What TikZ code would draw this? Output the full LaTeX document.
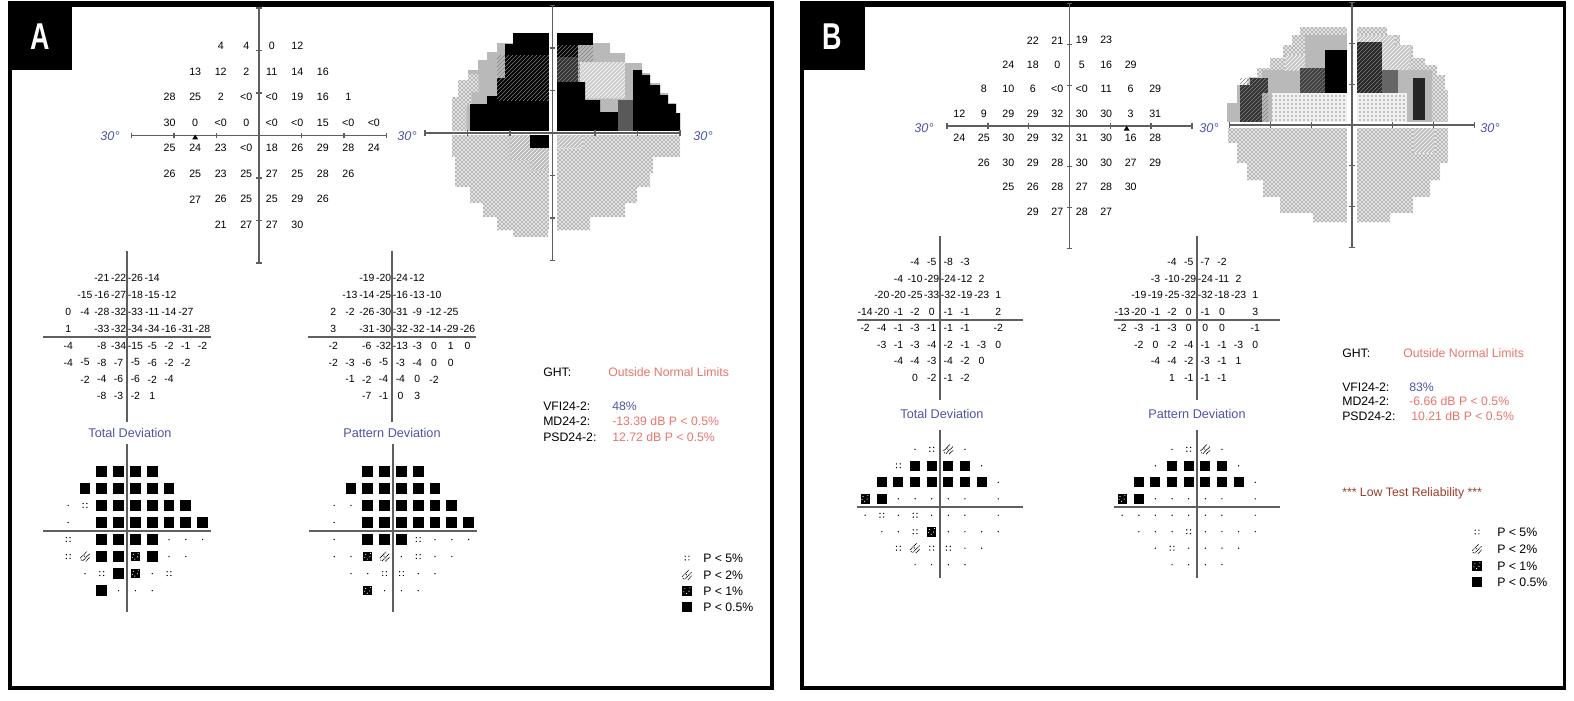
\documentclass[tikz,border=0pt]{standalone}
\usepackage{fontspec}
\usepackage{graphicx}
\setmainfont{Liberation Sans}
\usetikzlibrary{patterns}
\definecolor{vfblue}{RGB}{78,84,172}
\definecolor{vfred}{RGB}{233,118,108}
\definecolor{vfbrown}{RGB}{158,62,42}
\definecolor{axgray}{RGB}{95,95,95}
\def\sqh{4.1pt}
\newcommand\trow[3]{\foreach \v [count=\i from 0] in {#3} {\node[num] at ({#1+6*\i},#2) {\v};}}
\newcommand\drow[3]{\foreach \v [count=\i from 0] in {#3} {\node[dev] at ({#1+6*\i},#2) {\v};}}
\newcommand\psym[3]{%
  \if#3B\fill (#1,#2) +(-\sqh,-\sqh) rectangle +(\sqh,\sqh);\fi
  \if#3K\fill (#1,#2) +(-3.4pt,-3.6pt) rectangle +(3.4pt,3.6pt);
     \fill[white] (#1,#2) +(-1.6pt,1.7pt) circle (0.45pt) +(1.5pt,-0.2pt) circle (0.45pt) +(-0.4pt,-1.9pt) circle (0.45pt) +(2.1pt,2.4pt) circle (0.4pt) +(-2.3pt,-0.6pt) circle (0.4pt);\fi
  \if#3H\draw[line width=0.6pt,dash pattern=on 0.8pt off 0.5pt] (#1,#2) +(-3.6pt,-1.2pt)--+(1.2pt,3.6pt) +(-1.8pt,-3.2pt)--+(3.4pt,2pt) +(0.6pt,-3.6pt)--+(3.6pt,-0.6pt);
     \fill (#1,#2) +(-2.8pt,-2.6pt) circle (0.45pt) +(-0.4pt,0.2pt) circle (0.45pt);\fi
  \if#3D\fill (#1,#2) +(-1.4pt,-1.4pt) circle (0.55pt) +(1.4pt,-1.4pt) circle (0.55pt) +(-1.4pt,1.4pt) circle (0.55pt) +(1.4pt,1.4pt) circle (0.55pt);\fi
  \if#3o\fill (#1,#2) circle (0.55pt);\fi}
\newcommand\prow[3]{\foreach \v [count=\i from 0] in {#3} {\psym{{#1+6*\i}}{#2}{\v}}}
\newcommand\vfaxes{%
  \draw[axis] (-30,0)--(30,0) (0,-30)--(0,30);
  \foreach \t in {-30,-20,-10,10,20,30}{\draw[axis] (\t,0)+(0,-2.2pt)--+(0,2.2pt) (0,\t)+(-2.2pt,0)--+(2.2pt,0);}}
\begin{document}
\begin{tikzpicture}[x=0.75pt,y=-0.75pt,
  num/.style={font=\fontsize{8}{9}\selectfont, inner sep=0pt},
  dev/.style={font=\fontsize{7.8}{9}\selectfont, inner sep=0pt},
  axis/.style={draw=axgray,line width=0.95pt},
  lbl/.style={font=\fontsize{9.2}{11}\selectfont, inner sep=0pt, anchor=west},
  ttl/.style={font=\fontsize{9.5}{11}\selectfont, inner sep=0pt, text=vfblue},
  deg/.style={font=\fontsize{9.5}{11}\selectfont\itshape, inner sep=0pt, text=vfblue},
  frame/.style={draw=black, line width=2.6pt},
  dotted area/.style={fill=black!11, postaction={pattern=crosshatch dots, pattern color=black!85}},
  light area/.style={fill=black!6, postaction={pattern=dots, pattern color=black!85}},
  tag/.style={font=\fontsize{28}{28}\selectfont\bfseries, text=white, inner sep=0pt}]
\fill[white] (0,0) rectangle (1574,700);
\useasboundingbox (0,0) rectangle (1574,700);

% ================= frames =================
\draw[frame] (9.8,4.5) rectangle (772.2,688);
\fill (8,1) rectangle (774,7);
\fill (8,1) rectangle (72,70);
\node[tag] (tagA) at (40,37) {\scalebox{0.72}[1]{A}};
\draw[frame] (801.8,4.5) rectangle (1564.7,688);
\fill (800,1) rectangle (1566,7);
\fill (800,1) rectangle (865,70);
\node[tag] (tagB) at (832,37) {\scalebox{0.72}[1]{B}};

% ================= Panel A: grayscale =================
\path[fill=gray!55] (452,131)--(452,97)--(458,97)--(458,80)--(468,80)--(468,70)--(478,70)--(478,60)--(487,60)--(487,52)--(497,52)--(497,43)--(513,43)--(513,33)--(549,33)--(549,131)--cycle;
\path[fill=white] (452,131)--(452,97)--(458,97)--(458,80)--(468,80)--(468,74)--(478,74)--(478,92)--(471,92)--(471,105)--(466,105)--(466,131)--cycle;
\path[dotted area] (452,131)--(452,97)--(458,97)--(458,80)--(468,80)--(468,74)--(478,74)--(478,92)--(471,92)--(471,105)--(466,105)--(466,131)--cycle;
\fill (470,131)--(470,104)--(487,104)--(487,96)--(497,96)--(497,78)--(505,78)--(505,44)--(513,44)--(513,33)--(549,33)--(549,131)--cycle;
\path[pattern=north east lines, pattern color=gray] (497,55) rectangle (549,100);
\path[fill=gray!55] (557,131)--(557,33)--(593,33)--(593,43)--(610,43)--(610,53)--(625,53)--(625,63)--(642,63)--(642,73)--(650,73)--(650,83)--(660,83)--(660,93)--(668,93)--(668,103)--(676,103)--(676,113)--(680,113)--(680,131)--cycle;
\fill (557,33) rectangle (593,45);
\fill (557,45) rectangle (578,57);
\fill[black!80] (557,57) rectangle (578,82);
\path[pattern=north east lines, pattern color=gray] (557,45) rectangle (593,82);
\path[fill=gray!40] (580,62) rectangle (625,98);
\path[pattern=north east lines, pattern color=white] (580,62) rectangle (625,98);
\fill (557,131)--(557,82)--(585,82)--(585,100)--(600,100)--(600,112)--(618,112)--(618,131)--cycle;
\fill[black!65] (618,100) rectangle (633,131);
\fill (633,131)--(633,70)--(642,70)--(642,75)--(650,75)--(650,85)--(660,85)--(660,95)--(668,95)--(668,104)--(676,104)--(676,113)--(680,113)--(680,131)--cycle;
\path[dotted area] (452,135)--(680,135)--(680,157)--(653,157)--(653,173)--(650,173)--(650,187)--(637,187)--(637,203)--(625,203)--(625,217)--(590,217)--(590,230)--(548,230)--(548,237)--(513,237)--(513,230)--(497,230)--(497,217)--(483,217)--(483,203)--(470,203)--(470,187)--(455,187)--(455,157)--(452,157)--cycle;
\fill[gray!55] (510,135)--(549,135)--(549,170)--(530,170)--(530,160)--(510,160)--cycle;
\path[pattern=north east lines, pattern color=white] (510,135)--(549,135)--(549,170)--(530,170)--(530,160)--(510,160)--cycle;
\fill (530,135) rectangle (549,148);
\fill[gray!50] (557,135) rectangle (583,148);
\path[pattern=north east lines, pattern color=white] (557,135) rectangle (583,148);
\fill[white] (549,15) rectangle (557,250);
\fill[white] (445,131) rectangle (690,135);
\begin{scope}[shift={(552.5,133)},x=3.19pt,y=3.19pt]
  \vfaxes
\end{scope}

% ================= Panel A: threshold =================
\begin{scope}[shift={(259,135.5)},x=3.19pt,y=3.19pt]
  \vfaxes
  \fill (-15,-0.4) ++(-2.2pt,-1.6pt) -- ++(4.4pt,0) -- ++(-2.2pt,3.6pt) -- cycle;
  \trow{-9}{21}{4,4,0,12}
  \trow{-15}{15}{13,12,2,11,14,16}
  \trow{-21}{9}{28,25,2,<0,<0,19,16,1}
  \trow{-21}{3}{30,0,<0,0,<0,<0,15,<0,<0}
  \trow{-21}{-3}{25,24,23,<0,18,26,29,28,24}
  \trow{-21}{-9}{26,25,23,25,27,25,28,26}
  \trow{-15}{-15}{27,26,25,25,29,26}
  \trow{-9}{-21}{21,27,27,30}
\end{scope}
\node[deg] (dA1) at (110,136) {30°};
\node[deg] (dA2) at (407,136) {30°};
\node[deg] (dA3) at (703,136) {30°};

% ================= Panel A: deviation numbers =================
\begin{scope}[shift={(127,337)},x=2.1pt,y=2.12pt]
  \draw[axis] (-30,0)--(30,0) (0,30.5)--(0,-30);
  \drow{-9}{21}{-21,-22,-26,-14}
  \drow{-15}{15}{-15,-16,-27,-18,-15,-12}
  \drow{-21}{9}{0,-4,-28,-32,-33,-11,-14,-27}
  \drow{-21}{3}{1,{},-33,-32,-34,-34,-16,-31,-28}
  \drow{-21}{-3}{-4,{},-8,-34,-15,-5,-2,-1,-2}
  \drow{-21}{-9}{-4,-5,-8,-7,-5,-6,-2,-2}
  \drow{-15}{-15}{-2,-4,-6,-6,-2,-4}
  \drow{-9}{-21}{-8,-3,-2,1}
\end{scope}
\begin{scope}[shift={(392,337)},x=2.1pt,y=2.12pt]
  \draw[axis] (-30,0)--(30,0) (0,30.5)--(0,-30);
  \drow{-9}{21}{-19,-20,-24,-12}
  \drow{-15}{15}{-13,-14,-25,-16,-13,-10}
  \drow{-21}{9}{2,-2,-26,-30,-31,-9,-12,-25}
  \drow{-21}{3}{3,{},-31,-30,-32,-32,-14,-29,-26}
  \drow{-21}{-3}{-2,{},-6,-32,-13,-3,0,1,0}
  \drow{-21}{-9}{-2,-3,-6,-5,-3,-4,0,0}
  \drow{-15}{-15}{-1,-2,-4,-4,0,-2}
  \drow{-9}{-21}{-7,-1,0,3}
\end{scope}
\node[ttl] (tdA) at (130,433) {Total Deviation};
\node[ttl] (pdA) at (392,433) {Pattern Deviation};

% ================= Panel A: probability plots =================
\begin{scope}[shift={(127,531)},x=2.1pt,y=2.13pt]
  \draw[axis] (-30,0)--(30,0) (0,30.5)--(0,-28.5);
  \prow{-9}{21}{B,B,B,B}
  \prow{-15}{15}{B,B,B,B,B,B}
  \prow{-21}{9}{o,D,B,B,B,B,B,B}
  \prow{-21}{3}{o,n,B,B,B,B,B,B,B}
  \prow{-21}{-3}{D,n,B,B,B,B,o,o,o}
  \prow{-21}{-9}{D,H,B,B,K,B,o,o}
  \prow{-15}{-15}{o,D,B,K,o,D}
  \prow{-9}{-21}{B,o,o,o}
\end{scope}
\begin{scope}[shift={(393,531)},x=2.1pt,y=2.13pt]
  \draw[axis] (-30,0)--(30,0) (0,30.5)--(0,-28.5);
  \prow{-9}{21}{B,B,B,B}
  \prow{-15}{15}{B,B,B,B,B,B}
  \prow{-21}{9}{o,o,B,B,B,B,B,B}
  \prow{-21}{3}{o,n,B,B,B,B,B,B,B}
  \prow{-21}{-3}{o,n,B,B,B,D,o,o,o}
  \prow{-21}{-9}{o,o,K,H,o,D,o,o}
  \prow{-15}{-15}{o,o,D,D,o,o}
  \prow{-9}{-21}{K,o,o,o}
\end{scope}

% ================= Panel A: indices and legend =================
\node[lbl] (ghtA) at (543,372) {GHT:};
\node[lbl,text=vfred] (ghtvA) at (608,372) {Outside Normal Limits};
\node[lbl] (vfiA) at (543,406) {VFI24-2:};
\node[lbl,text=vfblue] (vfivA) at (612,406) {48\%};
\node[lbl] (mdA) at (543,421) {MD24-2:};
\node[lbl,text=vfred] (mdvA) at (612,421) {-13.39 dB P < 0.5\%};
\node[lbl] (psdA) at (543,437) {PSD24-2:};
\node[lbl,text=vfred] (psdvA) at (612,437) {12.72 dB P < 0.5\%};
\psym{687}{558}{D}\psym{687}{575}{H}\psym{687}{591}{K}\psym{687}{607}{B}
\node[lbl] (l1A) at (703,558) {P < 5\%};
\node[lbl] (l2A) at (703,575) {P < 2\%};
\node[lbl] (l3A) at (703,591) {P < 1\%};
\node[lbl] (l4A) at (703,607) {P < 0.5\%};

% ================= Panel B: grayscale =================
\path[dotted area] (1227,122)--(1227,103)--(1237,103)--(1237,85)--(1247,85)--(1247,77)--(1257,77)--(1257,68)--(1270,68)--(1270,58)--(1283,58)--(1283,45)--(1292,45)--(1292,35)--(1300,35)--(1300,27)--(1347,27)--(1347,122)--cycle;
\path[dotted area] (1357,122)--(1357,27)--(1387,27)--(1387,35)--(1400,35)--(1400,45)--(1413,45)--(1413,58)--(1425,58)--(1425,65)--(1437,65)--(1437,75)--(1445,75)--(1445,90)--(1448,90)--(1448,122)--cycle;
\fill[gray!55] (1227,122)--(1227,103)--(1237,103)--(1237,85)--(1250,85)--(1250,78)--(1262,78)--(1262,70)--(1347,70)--(1347,93)--(1272,93)--(1272,122)--cycle;
\fill[gray!55] (1305,35) rectangle (1347,70);
\fill[gray!45] (1285,55) rectangle (1305,70);
\path[pattern=north east lines, pattern color=white] (1285,55) rectangle (1305,70);
\fill[gray!55] (1357,70)--(1432,70)--(1432,122)--(1407,122)--(1407,93)--(1357,93)--cycle;
\fill[gray!45] (1357,35)--(1395,35)--(1395,45)--(1410,45)--(1410,70)--(1357,70)--cycle;
\path[pattern=north east lines, pattern color=white] (1357,35)--(1395,35)--(1395,45)--(1410,45)--(1410,70)--(1357,70)--cycle;
\fill (1325,50) rectangle (1347,93);
\fill[black!85] (1357,42) rectangle (1382,93);
\fill[black!75] (1300,68) rectangle (1325,93);
\fill[black!80] (1240,85) rectangle (1262,122);
\fill[black!80] (1250,78) rectangle (1268,93);
\fill[black!85] (1413,78) rectangle (1425,120);
\fill[black!60] (1382,70) rectangle (1398,93);
\path[pattern=north east lines, pattern color=gray] (1240,78) rectangle (1268,122);
\path[pattern=north east lines, pattern color=gray] (1300,68) rectangle (1325,93);
\path[pattern=north east lines, pattern color=gray] (1357,42) rectangle (1382,93);
\fill[white] (1272,93) rectangle (1407,122);
\path[light area] (1272,93) rectangle (1407,122);
\path[dotted area] (1228,128)--(1448,128)--(1448,163)--(1440,163)--(1440,180)--(1430,180)--(1430,197)--(1413,197)--(1413,213)--(1390,213)--(1390,222)--(1313,222)--(1313,213)--(1280,213)--(1280,197)--(1263,197)--(1263,180)--(1247,180)--(1247,163)--(1237,163)--(1237,143)--(1228,143)--cycle;
\fill[gray!50] (1413,128) rectangle (1435,153);
\path[pattern=north east lines, pattern color=white] (1413,128) rectangle (1435,153);
\fill[white] (1347,15) rectangle (1357,240);
\fill[white] (1220,122) rectangle (1455,128);
\begin{scope}[shift={(1352,125)},x=3.06pt,y=3.06pt]
  \vfaxes
\end{scope}

% ================= Panel B: threshold =================
\begin{scope}[shift={(1069.5,126)},x=3.06pt,y=3.06pt]
  \vfaxes
  \fill (14,-0.6) ++(-2.2pt,-1.6pt) -- ++(4.4pt,0) -- ++(-2.2pt,3.6pt) -- cycle;
  \trow{-9}{21}{22,21,19,23}
  \trow{-15}{15}{24,18,0,5,16,29}
  \trow{-21}{9}{8,10,6,<0,<0,11,6,29}
  \trow{-27}{3}{12,9,29,29,32,30,30,3,31}
  \trow{-27}{-3}{24,25,30,29,32,31,30,16,28}
  \trow{-21}{-9}{26,30,29,28,30,30,27,29}
  \trow{-15}{-15}{25,26,28,27,28,30}
  \trow{-9}{-21}{29,27,28,27}
\end{scope}
\node[deg] (dB1) at (924,128) {30°};
\node[deg] (dB2) at (1209,128) {30°};
\node[deg] (dB3) at (1490,128) {30°};

% ================= Panel B: deviation numbers =================
\begin{scope}[shift={(940,320)},x=2.08pt,y=2.06pt]
  \draw[axis] (-30,0)--(30,0) (0,30.5)--(0,-29);
  \drow{-9}{21}{-4,-5,-8,-3}
  \drow{-15}{15}{-4,-10,-29,-24,-12,2}
  \drow{-21}{9}{-20,-20,-25,-33,-32,-19,-23,1}
  \drow{-27}{3}{-14,-20,-1,-2,0,-1,-1,{},2}
  \drow{-27}{-3}{-2,-4,-1,-3,-1,-1,-1,{},-2}
  \drow{-21}{-9}{-3,-1,-3,-4,-2,-1,-3,0}
  \drow{-15}{-15}{-4,-4,-3,-4,-2,0}
  \drow{-9}{-21}{0,-2,-1,-2}
\end{scope}
\begin{scope}[shift={(1197,320)},x=2.08pt,y=2.06pt]
  \draw[axis] (-30,0)--(30,0) (0,30.5)--(0,-29);
  \drow{-9}{21}{-4,-5,-7,-2}
  \drow{-15}{15}{-3,-10,-29,-24,-11,2}
  \drow{-21}{9}{-19,-19,-25,-32,-32,-18,-23,1}
  \drow{-27}{3}{-13,-20,-1,-2,0,-1,0,{},3}
  \drow{-27}{-3}{-2,-3,-1,-3,0,0,0,{},-1}
  \drow{-21}{-9}{-2,0,-2,-4,-1,-1,-3,0}
  \drow{-15}{-15}{-4,-4,-2,-3,-1,1}
  \drow{-9}{-21}{1,-1,-1,-1}
\end{scope}
\node[ttl] (tdB) at (942,414) {Total Deviation};
\node[ttl] (pdB) at (1197,414) {Pattern Deviation};

% ================= Panel B: probability plots =================
\def\sqh{3.7pt}
\begin{scope}[shift={(940,507)},x=2.08pt,y=2.06pt]
  \draw[axis] (-30,0)--(30,0) (0,28)--(0,-26);
  \prow{-9}{21}{o,D,H,o}
  \prow{-15}{15}{D,B,B,B,B,o}
  \prow{-21}{9}{B,B,B,B,B,B,B,o}
  \prow{-27}{3}{K,B,o,o,o,o,o,n,o}
  \prow{-27}{-3}{o,D,o,D,o,o,o,n,o}
  \prow{-21}{-9}{o,o,D,K,o,o,o,o}
  \prow{-15}{-15}{D,H,D,D,o,o}
  \prow{-9}{-21}{o,o,o,o}
\end{scope}
\begin{scope}[shift={(1197,507)},x=2.08pt,y=2.06pt]
  \draw[axis] (-30,0)--(30,0) (0,28)--(0,-26);
  \prow{-9}{21}{o,D,H,o}
  \prow{-15}{15}{o,B,B,B,B,o}
  \prow{-21}{9}{B,B,B,B,B,B,B,o}
  \prow{-27}{3}{K,B,o,o,o,o,o,n,o}
  \prow{-27}{-3}{o,o,o,o,o,o,o,n,o}
  \prow{-21}{-9}{o,o,o,D,o,o,o,o}
  \prow{-15}{-15}{o,D,o,o,o,o}
  \prow{-9}{-21}{o,o,o,o}
\end{scope}

% ================= Panel B: indices and legend =================
\node[lbl] (ghtB) at (1342,353) {GHT:};
\node[lbl,text=vfred] (ghtvB) at (1403,353) {Outside Normal Limits};
\node[lbl] (vfiB) at (1342,387) {VFI24-2:};
\node[lbl,text=vfblue] (vfivB) at (1409,387) {83\%};
\node[lbl] (mdB) at (1342,401) {MD24-2:};
\node[lbl,text=vfred] (mdvB) at (1409,401) {-6.66 dB P < 0.5\%};
\node[lbl] (psdB) at (1342,416) {PSD24-2:};
\node[lbl,text=vfred] (psdvB) at (1411,416) {10.21 dB P < 0.5\%};
\node[lbl,text=vfbrown] (lowB) at (1342,493) {*** Low Test Reliability ***};
\psym{1477}{532}{D}\psym{1477}{549}{H}\psym{1477}{566}{K}\psym{1477}{582}{B}
\node[lbl] (l1B) at (1497,532) {P < 5\%};
\node[lbl] (l2B) at (1497,549) {P < 2\%};
\node[lbl] (l3B) at (1497,566) {P < 1\%};
\node[lbl] (l4B) at (1497,582) {P < 0.5\%};
\end{tikzpicture}
\end{document}
